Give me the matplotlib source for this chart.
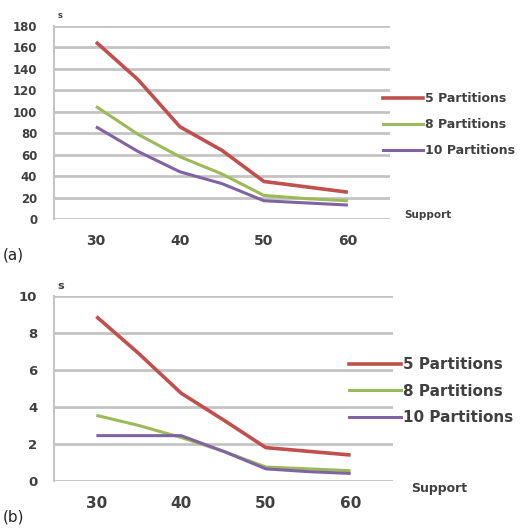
import matplotlib
matplotlib.use("Agg")
import matplotlib.pyplot as plt
from matplotlib.lines import Line2D

support = [30, 35, 40, 45, 50, 55, 60]
series_names = ["5 Partitions", "8 Partitions", "10 Partitions"]

# (a) execution time
a_5 = [165, 130, 86, 64, 35, 30, 25]
a_8 = [105, 79, 58, 42, 22, 19, 17]
a_10 = [86, 63, 44, 33, 17, 15, 13]
a_yticks = [0, 20, 40, 60, 80, 100, 120, 140, 160, 180]

# (b) execution time
b_5 = [8.9, 6.9, 4.75, 3.3, 1.8, 1.6, 1.4]
b_8 = [3.55, 3.0, 2.35, 1.6, 0.75, 0.65, 0.55]
b_10 = [2.45, 2.45, 2.45, 1.6, 0.65, 0.5, 0.4]
b_yticks = [0, 2, 4, 6, 8, 10]

xticks = [30, 40, 50, 60]
colors = ["#c0504d", "#9bbb59", "#8064a2"]
lws = [2.6, 2.2, 2.2]
grid_c = "#c4c4c4"
txt_c = "#404040"

fig = plt.figure(figsize=(5.24, 5.29), dpi=100)

def panel(rect, data, yticks, leg_anchor, leg_fs, handlelen, lspace, support_xy, sup_fs,
          panel_label, label_xy, ylab_fs, xlab_fs, s_fs):
    ax = fig.add_axes(rect)
    for vals, c, lw in zip(data, colors, lws):
        ax.plot(support, vals, color=c, lw=lw, solid_capstyle="butt", zorder=3)
    ax.set_xlim(25, 65)
    ax.set_ylim(yticks[0], yticks[-1])
    ax.set_yticks(yticks)
    ax.set_xticks(xticks)
    ax.set_xticklabels([str(v) for v in xticks], fontsize=xlab_fs, fontweight="bold", color=txt_c)
    ax.set_yticklabels([str(v) for v in yticks], fontsize=ylab_fs, fontweight="bold", color=txt_c)
    ax.tick_params(axis="both", length=0)
    ax.tick_params(axis="x", pad=11)
    ax.tick_params(axis="y", pad=12)
    ax.yaxis.grid(True, color=grid_c, lw=2)
    ax.set_axisbelow(True)
    for s in ["top", "right", "bottom"]:
        ax.spines[s].set_visible(False)
    ax.spines["left"].set_color(grid_c)
    ax.spines["left"].set_linewidth(1.5)
    ax.text(0.01, 1.03, "s", transform=ax.transAxes, fontsize=s_fs, fontweight="bold",
            color=txt_c, ha="left", va="bottom")
    handles = [Line2D([0], [0], color=c, lw=lw) for c, lw in zip(colors, lws)]
    leg = fig.legend(handles, series_names, loc="upper left", bbox_to_anchor=leg_anchor,
                     frameon=False, fontsize=leg_fs, handlelength=handlelen, handletextpad=0.1,
                     labelspacing=lspace, borderaxespad=0)
    for t in leg.get_texts():
        t.set_color(txt_c)
        t.set_fontweight("bold")
    fig.text(support_xy[0], support_xy[1], "Support", fontsize=sup_fs, fontweight="bold",
             color=txt_c, ha="left", va="center")
    fig.text(label_xy[0], label_xy[1], panel_label, fontsize=11, color="#222222",
             ha="left", va="center")
    return ax

panel([0.103, 0.586, 0.641, 0.365], [a_5, a_8, a_10], a_yticks,
      (0.722, 0.835), 9, 3.2, 1.03, (0.772, 0.594), 7.5, "(a)", (0.006, 0.518), 8.5, 10, 6)
panel([0.103, 0.091, 0.647, 0.349], [b_5, b_8, b_10], b_yticks,
      (0.655, 0.3365), 11, 3.4, 0.75, (0.784, 0.077), 9, "(b)", (0.006, 0.022), 9.5, 11, 8)

fig.savefig("out.png", dpi=100, facecolor="white")
